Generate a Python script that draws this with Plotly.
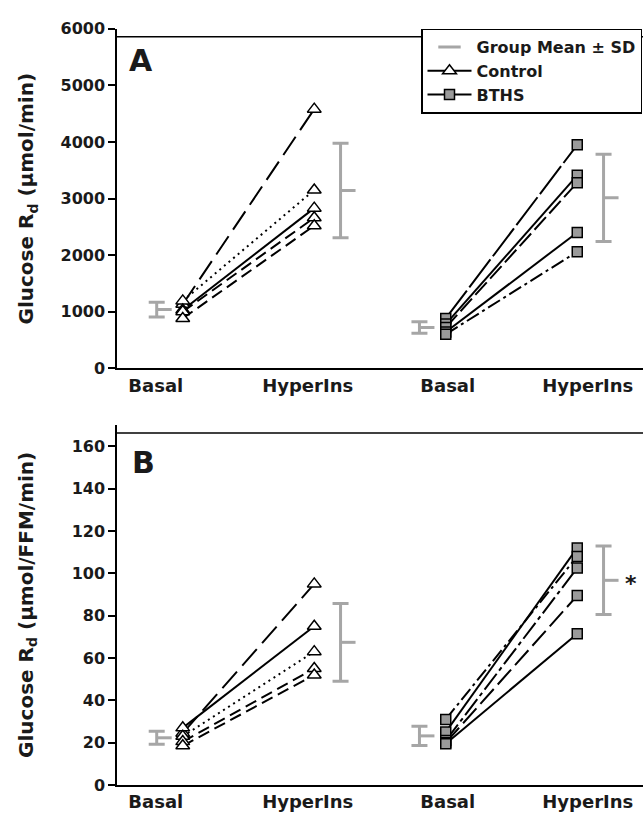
import plotly.graph_objects as go

# ---------------- data ----------------
PHASES = ["Basal", "HyperIns", "Basal", "HyperIns"]

# Panel A: Glucose Rd (umol/min)
A_CONTROL_BASAL = [1130, 1190, 1030, 1000, 880]
A_CONTROL_HYPER = [4580, 3150, 2830, 2660, 2520]
A_BTHS_BASAL = [880, 780, 720, 640, 600]
A_BTHS_HYPER = [3950, 3410, 3280, 2400, 2060]
A_CONTROL_MEAN = [1036, 3140]
A_CONTROL_SD = [130, 835]
A_BTHS_MEAN = [720, 3012]
A_BTHS_SD = [100, 770]

# Panel B: Glucose Rd (umol/FFM/min)
B_CONTROL_BASAL = [24.5, 27, 23, 20.5, 18.5]
B_CONTROL_HYPER = [95, 75, 63, 55, 52]
B_BTHS_BASAL = [25, 31, 21, 20, 19.5]
B_BTHS_HYPER = [112, 108, 102.5, 89.5, 71.5]
B_CONTROL_MEAN = [22.3, 67.4]
B_CONTROL_SD = [3.1, 18.4]
B_BTHS_MEAN = [23.2, 96.7]
B_BTHS_SD = [4.5, 16.2]

A_TICKS = [0, 1000, 2000, 3000, 4000, 5000, 6000]
B_TICKS = [0, 20, 40, 60, 80, 100, 120, 140, 160]

# ---------------- styles / layout constants ----------------
FONT = "DejaVu Sans"
TXT = "#1a1a1a"
GRAY = "#a6a6a6"
SQ_FILL = "#9a9a9a"
W, H = 643, 824
X_LEFT_PX = 117

A_CONTROL_DASH = ["22px,8px", "2px,4px", "solid", "12px,6px", "12px,6px"]
A_BTHS_DASH = ["35px,4px", "solid", "17px,5px", "solid", "14px,4px,3px,4px"]
B_CONTROL_DASH = ["22px,8px", "solid", "2px,4px", "12px,6px", "12px,6px"]
B_BTHS_DASH = ["solid", "14px,4px,3px,4px", "20px,4px,4px,4px", "20px,6px", "solid"]

CTRL_X = [0, 1]
BTHS_X = [2, 3]
CTRL_SD_X = [-0.198, 1.2]
BTHS_SD_X = [1.8, 3.2]
MEAN_TICK = 0.114
LABEL_X = [-0.205, 0.95, 2.015, 3.08]

fig = go.Figure()


def add_group(xa, ya, basal, hyper, dashes, xs, symbol, fill, msize):
    for b, h, d in zip(basal, hyper, dashes):
        fig.add_trace(go.Scatter(
            x=xs, y=[b, h], mode="lines", xaxis=xa, yaxis=ya,
            line=dict(color="black", width=2, dash=d), showlegend=False,
            hoverinfo="skip"))
    fig.add_trace(go.Scatter(
        x=[xs[0]] * len(basal) + [xs[1]] * len(hyper), y=list(basal) + list(hyper),
        mode="markers", xaxis=xa, yaxis=ya, showlegend=False,
        marker=dict(symbol=symbol, size=msize, color=fill,
                    line=dict(color="black", width=1.5))))


def add_sd(xa, ya, xs, means, sds):
    fig.add_trace(go.Scatter(
        x=xs, y=means, mode="markers", xaxis=xa, yaxis=ya, showlegend=False,
        marker=dict(size=1, color="rgba(0,0,0,0)"),
        error_y=dict(type="data", array=sds, visible=True, color=GRAY,
                     thickness=3, width=8)))
    for x, m in zip(xs, means):
        fig.add_trace(go.Scatter(
            x=[x, x + MEAN_TICK], y=[m, m], mode="lines", xaxis=xa, yaxis=ya,
            showlegend=False, line=dict(color=GRAY, width=3)))


# SD bars (behind)
add_sd("x", "y", CTRL_SD_X, A_CONTROL_MEAN, A_CONTROL_SD)
add_sd("x", "y", BTHS_SD_X, A_BTHS_MEAN, A_BTHS_SD)
add_sd("x2", "y2", CTRL_SD_X, B_CONTROL_MEAN, B_CONTROL_SD)
add_sd("x2", "y2", BTHS_SD_X, B_BTHS_MEAN, B_BTHS_SD)

# subjects
add_group("x", "y", A_CONTROL_BASAL, A_CONTROL_HYPER, A_CONTROL_DASH, CTRL_X,
          "triangle-up", "white", 12)
add_group("x", "y", A_BTHS_BASAL, A_BTHS_HYPER, A_BTHS_DASH, BTHS_X,
          "square", SQ_FILL, 10)
add_group("x2", "y2", B_CONTROL_BASAL, B_CONTROL_HYPER, B_CONTROL_DASH, CTRL_X,
          "triangle-up", "white", 12)
add_group("x2", "y2", B_BTHS_BASAL, B_BTHS_HYPER, B_BTHS_DASH, BTHS_X,
          "square", SQ_FILL, 10)

# legend entries
fig.add_trace(go.Scatter(x=[None], y=[None], mode="markers", name="Group Mean ± SD",
                         marker=dict(symbol="line-ew", size=20,
                                     line=dict(color=GRAY, width=3))))
fig.add_trace(go.Scatter(x=[None], y=[None], mode="lines+markers", name="Control",
                         line=dict(color="black", width=2),
                         marker=dict(symbol="triangle-up", size=12, color="white",
                                     line=dict(color="black", width=1.5))))
fig.add_trace(go.Scatter(x=[None], y=[None], mode="lines+markers", name="BTHS",
                         line=dict(color="black", width=2),
                         marker=dict(symbol="square", size=10, color=SQ_FILL,
                                     line=dict(color="black", width=1.5))))

xdom = [X_LEFT_PX / W, 1.0]
ydomA = [1 - 367.7 / H, 1 - 20.3 / H]
ydomB = [1 - 794.3 / H, 1 - 426.0 / H]

xaxis_common = dict(range=[-0.5, 3.5], domain=xdom, showline=True, linecolor="black",
                    linewidth=1.5, ticks="", tickvals=LABEL_X, ticktext=PHASES,
                    showgrid=False, zeroline=False,
                    tickfont=dict(family=FONT, size=18, color=TXT, weight="bold"))
yaxis_common = dict(showline=True, linecolor="black", linewidth=1.5, ticks="outside",
                    ticklen=7, tickwidth=1.5, tickcolor="black", showgrid=False,
                    zeroline=False,
                    tickfont=dict(family=FONT, size=16, color=TXT, weight="bold"))


def ann(text, x, y, size, angle=0, xref="paper", yref="paper"):
    return dict(text=text, xref=xref, yref=yref, x=x, y=y, textangle=angle,
                xanchor="center", yanchor="middle", showarrow=False,
                font=dict(family=FONT, size=size, color=TXT, weight="bold"))


fig.update_layout(
    width=W, height=H, margin=dict(l=0, r=0, t=0, b=0),
    paper_bgcolor="white", plot_bgcolor="white",
    font=dict(family=FONT, color=TXT),
    xaxis=dict(**xaxis_common, anchor="y"),
    yaxis=dict(**yaxis_common, domain=ydomA, range=[0, 6000], tickvals=A_TICKS,
               anchor="x"),
    xaxis2=dict(**xaxis_common, anchor="y2"),
    yaxis2=dict(**yaxis_common, domain=ydomB, range=[0, 170], tickvals=B_TICKS,
                anchor="x2"),
    legend=dict(x=642 / W, xanchor="right", y=1 - 20 / H, yanchor="top",
                bordercolor="black", borderwidth=1.5, bgcolor="white",
                font=dict(family=FONT, size=16, color=TXT, weight="bold"),
                tracegroupgap=0, itemsizing="trace", itemwidth=44),
    shapes=[
        dict(type="line", xref="paper", yref="paper", x0=xdom[0], x1=1,
             y0=1 - 28.3 / H, y1=1 - 28.3 / H, line=dict(color="black", width=1.5)),
        dict(type="line", xref="paper", yref="paper", x0=xdom[0], x1=1,
             y0=1 - 434 / H, y1=1 - 434 / H, line=dict(color="black", width=1.5)),
    ],
    annotations=[
        ann("Glucose R<sub>d</sub> (µmol/min)", 27 / W, 1 - 194 / H, 20, -90),
        ann("Glucose R<sub>d</sub> (µmol/FFM/min)", 27 / W, 1 - 610 / H, 20, -90),
        ann("A", 141 / W, 1 - 53 / H, 30),
        ann("B", 143 / W, 1 - 464 / H, 30),
        ann("*", 3.41, 95, 22, xref="x2", yref="y2"),
    ],
)

fig.write_html("out.html")
